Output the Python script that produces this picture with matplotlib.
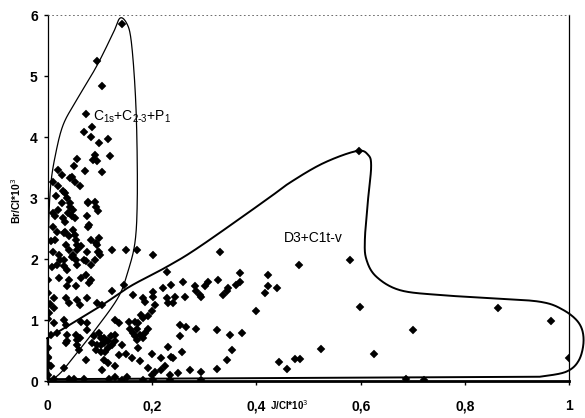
import numpy as np
import matplotlib
matplotlib.use("Agg")
import matplotlib.pyplot as plt

# ---- data: sample points (J/Cl*10^3, Br/Cl*10^3) ----
x_vals = [
    0.142, 0.095, 0.105, 0.074, 0.085, 0.070, 0.083, 0.099, 0.116, 0.120, 0.091, 0.088, 0.095, 0.057, 0.051,
    0.072, 0.104, 0.021, 0.027, 0.011, 0.021, 0.030, 0.017, 0.037, 0.027, 0.043, 0.021, 0.040, 0.014, 0.046,
    0.030, 0.043, 0.053, 0.046, 0.062, 0.033, 0.043, 0.049, 0.078, 0.091, 0.097, 0.077, 0.092, 0.076, 0.079,
    0.011, 0.033, 0.053, 0.078,
    0.011, 0.018, 0.014, 0.033, 0.049, 0.053, 0.032, 0.041, 0.054, 0.057, 0.083, 0.092, 0.099, 0.035, 0.041,
    0.006, 0.010, 0.022, 0.032, 0.019, 0.048, 0.054, 0.057, 0.076, 0.099, 0.095, 0.073, 0.083, 0.124, 0.150,
    0.172, 0.065, 0.056, 0.097, 0.100, 0.069, 0.091, 0.046, 0.024, 0.022, 0.041, 0.064, 0.073, 0.083, 0.000,
    0.032, 0.038, 0.202, 0.228, 0.330,
    0.038, 0.054, 0.079, 0.012, 0.035, 0.041, 0.057, 0.063, 0.076, 0.095, 0.105, 0.124, 0.146, 0.012, 0.000,
    0.012, 0.032, 0.035, 0.064, 0.076, 0.130, 0.137, 0.156, 0.159,
    0.164, 0.183, 0.187, 0.203, 0.203, 0.222, 0.237, 0.228, 0.231, 0.241, 0.244, 0.260, 0.263, 0.282, 0.285,
    0.292, 0.295, 0.301, 0.308, 0.327, 0.336, 0.343, 0.346, 0.362, 0.369, 0.369, 0.423, 0.423, 0.416, 0.439,
    0.400, 0.206, 0.200, 0.193, 0.180, 0.183, 0.168, 0.174, 0.171,
    0.006, 0.019, 0.038, 0.054, 0.057, 0.063, 0.076, 0.089, 0.099, 0.102, 0.108, 0.115, 0.121, 0.124, 0.130,
    0.130, 0.143, 0.150, 0.035, 0.038, 0.057, 0.060, 0.086, 0.095, 0.102, 0.108, 0.092, 0.102, 0.111, 0.115,
    0.073, 0.108, 0.115, 0.137, 0.000, 0.000, 0.003, 0.006, 0.000, 0.032, 0.105, 0.130, 0.012, 0.041, 0.051,
    0.070, 0.118, 0.143, 0.153, 0.130,
    0.164, 0.168, 0.171, 0.177, 0.183, 0.187, 0.193, 0.174, 0.253, 0.266, 0.285, 0.253, 0.324, 0.350, 0.372,
    0.200, 0.231, 0.237, 0.241, 0.257, 0.218, 0.353, 0.343, 0.325, 0.161, 0.177, 0.193, 0.206, 0.218, 0.225,
    0.200, 0.234, 0.250, 0.273, 0.295, 0.183, 0.203, 0.234, 0.295,
    0.482, 0.579, 0.598, 0.523, 0.625, 0.474, 0.483, 0.444, 0.458, 0.596, 0.863, 0.965, 0.701, 0.999, 0.687,
    0.722,
    0.000, 0.002, 0.004, 0.000, 0.008,
]
y_vals = [
    5.85, 5.24, 4.84, 4.37, 4.17, 4.08, 4.00, 3.91, 3.96, 3.69, 3.71, 3.63, 3.60, 3.64, 3.53,
    3.45, 3.43, 3.46, 3.38, 3.27, 3.19, 3.11, 3.03, 3.00, 2.92, 2.86, 2.81, 2.75, 2.70, 2.70,
    2.67, 3.33, 3.27, 3.35, 3.19, 3.08, 2.92, 2.81, 2.92, 2.94, 2.78, 2.93, 2.86, 2.70, 2.56,
    2.75, 2.60, 2.67, 2.53,
    2.53, 2.45, 2.31, 2.45, 2.48, 2.40, 2.42, 2.37, 2.32, 2.23, 2.32, 2.26, 2.34, 2.23, 2.15,
    2.29, 2.12, 2.07, 1.99, 1.90, 2.07, 1.99, 1.90, 2.12, 2.12, 2.23, 1.96, 1.90, 2.15, 2.14,
    2.15, 2.21, 2.15, 2.12, 2.07, 1.99, 1.99, 2.04, 1.99, 1.69, 1.66, 1.69, 1.74, 1.66, 1.66,
    1.88, 1.82, 2.07, 1.79, 2.11,
    1.55, 1.55, 1.60, 1.36, 1.36, 1.28, 1.33, 1.25, 1.36, 1.28, 1.25, 1.47, 1.58, 1.19, 1.02,
    0.95, 1.00, 0.92, 0.97, 0.95, 1.00, 0.95, 0.97, 0.86,
    1.41, 1.36, 1.30, 1.46, 1.38, 1.52, 1.58, 1.36, 1.28, 1.28, 1.38, 1.63, 1.38, 1.55, 1.47,
    1.41, 1.38, 1.55, 1.63, 1.66, 1.41, 1.47, 1.52, 1.58, 1.62, 1.77, 1.74, 1.55, 1.44, 1.52,
    1.14, 1.25, 1.14, 1.06, 1.08, 1.03, 0.97, 0.95, 0.86,
    0.76, 0.78, 0.76, 0.76, 0.67, 0.70, 0.84, 0.73, 0.78, 0.70, 0.70, 0.65, 0.73, 0.59, 0.75,
    0.65, 0.59, 0.45, 0.62, 0.65, 0.59, 0.51, 0.62, 0.59, 0.59, 0.62, 0.51, 0.48, 0.48, 0.54,
    0.34, 0.34, 0.29, 0.43, 0.54, 0.37, 0.26, 0.24, 0.10, 0.21, 0.18, 0.24, 0.03, 0.03, 0.04,
    0.03, 0.03, 0.02, 0.07, 0.07,
    0.78, 0.73, 0.67, 0.76, 0.70, 0.78, 0.86, 0.54, 0.92, 0.89, 0.86, 0.73, 0.84, 0.76, 0.78,
    0.45, 0.56, 0.40, 0.37, 0.48, 0.37, 0.51, 0.34, 0.19, 0.37, 0.32, 0.21, 0.15, 0.18, 0.24,
    0.10, 0.10, 0.13, 0.18, 0.14, 0.02, 0.02, 0.02, 0.02,
    1.90, 1.98, 1.22, 0.53, 0.44, 0.36, 0.36, 0.31, 0.20, 3.77, 1.19, 0.99, 0.84, 0.37, 0.03,
    0.02,
    0.40, 1.11, 1.27, 1.44, 1.87,
]

# ---- group boundary outlines (vertices) ----
loop1_x = [0.005, 0.000, 0.000, 0.002, 0.006, 0.015, 0.030, 0.056, 0.094, 0.126, 0.139, 0.152, 0.160,
           0.167, 0.171, 0.172, 0.168, 0.155, 0.136, 0.094, 0.056, 0.030, 0.015]
loop1_y = [0.03, 0.50, 1.50, 2.50, 3.20, 3.70, 4.20, 4.61, 5.16, 5.71, 5.95, 5.86, 5.60,
           4.90, 4.07, 3.00, 2.30, 1.82, 1.38, 0.87, 0.46, 0.18, 0.06]

loop2_x = [0.000, 0.100, 0.158, 0.228, 0.291, 0.419, 0.464, 0.528, 0.592, 0.614, 0.620, 0.614, 0.608,
           0.611, 0.630, 0.675, 0.751, 0.847, 0.943, 0.987, 1.018, 1.027, 1.018, 0.993, 0.943]
loop2_y = [0.70, 1.22, 1.55, 1.87, 2.20, 2.97, 3.25, 3.57, 3.77, 3.71, 3.52, 2.97, 2.32,
           1.99, 1.71, 1.49, 1.41, 1.36, 1.30, 1.17, 0.95, 0.67, 0.34, 0.15, 0.07]
loop2_base_x = [0.0, 0.0]
loop2_base_y = [0.03, 0.70]

x_ticks = [0, 0.2, 0.4, 0.6, 0.8, 1]
x_tick_labels = ["0", "0,2", "0,4", "0,6", "0,8", "1"]
y_ticks = [0, 1, 2, 3, 4, 5, 6]


def catmull_rom(px, py, closed=False, n=24):
    P = np.column_stack([px, py])
    N = len(P)
    out = []
    segs = N if closed else N - 1
    for i in range(segs):
        if closed:
            p0, p1, p2, p3 = P[(i - 1) % N], P[i], P[(i + 1) % N], P[(i + 2) % N]
        else:
            p0 = P[max(i - 1, 0)]
            p1 = P[i]
            p2 = P[i + 1]
            p3 = P[min(i + 2, N - 1)]
        t = np.linspace(0, 1, n, endpoint=False)[:, None]
        pts = 0.5 * ((2 * p1) + (-p0 + p2) * t + (2 * p0 - 5 * p1 + 4 * p2 - p3) * t ** 2
                     + (-p0 + 3 * p1 - 3 * p2 + p3) * t ** 3)
        out.append(pts)
    if closed:
        out.append(P[:1])
    else:
        out.append(P[-1:])
    return np.vstack(out)


plt.rcParams['font.family'] = ['Liberation Sans', 'DejaVu Sans']

fig = plt.figure(figsize=(5.85, 4.18), dpi=100)
ax = fig.add_axes([0.0812, 0.0885, 0.8923, 0.8755])
ax.set_xlim(0, 1)
ax.set_ylim(0, 6)

ax.plot(x_vals, y_vals, linestyle='none', marker='D', markersize=3.8,
        color='black', markeredgewidth=0.3, zorder=3)

c1 = catmull_rom(loop1_x, loop1_y, closed=True)
ax.plot(c1[:, 0], c1[:, 1], color='black', lw=0.9, zorder=2)

c2 = catmull_rom(loop2_x, loop2_y, closed=False)
c2 = np.vstack([c2, np.column_stack([[loop2_x[-1]] + loop2_base_x, [loop2_y[-1]] + loop2_base_y])])
ax.plot(c2[:, 0], c2[:, 1], color='black', lw=1.4, zorder=2, clip_on=False)

ax.text(0.088, 4.33, r'C$\mathregular{_{1s}}$+C$\mathregular{_{2\text{-}3}}$+P$\mathregular{_1}$',
        fontsize=10, va='center', ha='left')
ax.text(0.453, 2.35, 'D3+C1t-v', fontsize=10, va='center', ha='left')

for side in ['left', 'right']:
    ax.spines[side].set_linewidth(0.9)
ax.spines['top'].set_linewidth(0.6)
ax.spines['top'].set_linestyle((0, (1, 4)))
ax.spines['top'].set_color('#555555')
ax.spines['bottom'].set_linewidth(2.0)

ax.set_xticks(x_ticks)
ax.set_xticklabels(x_tick_labels)
ax.set_yticks(y_ticks)
ax.tick_params(axis='both', direction='out', length=3, width=1, labelsize=10, pad=10)
ax.tick_params(axis='y', pad=4)
for lab in ax.get_xticklabels() + ax.get_yticklabels():
    lab.set_fontweight('bold')

fig.text(0.495, 0.015, r'J/Cl*10$^3$', fontsize=7, fontweight='bold', ha='center', va='bottom')
fig.text(0.027, 0.52, r'Br/Cl*10$^3$', fontsize=7.5, fontweight='bold', rotation=90,
         ha='center', va='center')

fig.savefig('out.png', dpi=100)
